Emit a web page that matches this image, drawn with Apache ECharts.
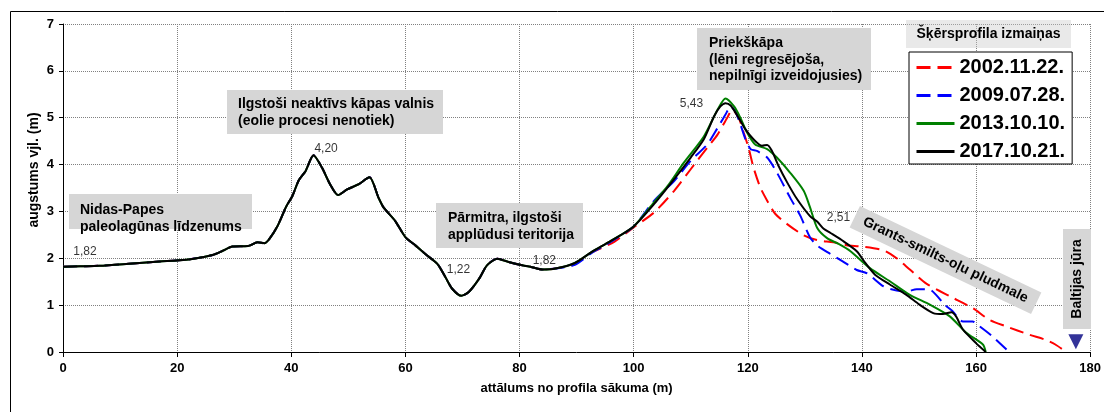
<!DOCTYPE html>
<html>
<head>
<meta charset="utf-8">
<script src="https://cdn.jsdelivr.net/npm/echarts@6/dist/echarts.min.js"></script>
<style>
  html, body { margin: 0; padding: 0; background: #fff; }
  #chart { width: 1104px; height: 412px; }
</style>
</head>
<body>
<div id="chart"></div>
<script>
// ---- DATA ----
const seriesNames = ['2002.11.22.', '2009.07.28.', '2013.10.10.', '2017.10.21.'];
const xTicks = [0, 20, 40, 60, 80, 100, 120, 140, 160, 180];
const yTicks = [0, 1, 2, 3, 4, 5, 6, 7];

// shared part of the profile (0 - 86 m), identical for all surveys
const xCommon = [0, 3, 6.4, 12.2, 16.9, 21.6, 23.9, 26.2, 28, 29.7, 32.4, 34.1, 35.3, 36.2, 37.6, 39.1, 40.2, 41.3, 42.5, 43.9, 45.4, 46.8, 48.2, 49.8, 51.8, 53.7, 55.3, 56.2, 58.2, 60, 61.8, 63.5, 65.6, 67, 68.2, 69.8, 71.1, 72.9, 74.3, 76.1, 78.1, 80.5, 82.2, 84, 86.3];
const yCommon = [1.82, 1.83, 1.84, 1.89, 1.93, 1.97, 2.01, 2.07, 2.16, 2.25, 2.26, 2.34, 2.32, 2.42, 2.69, 3.10, 3.33, 3.66, 3.86, 4.20, 3.93, 3.58, 3.35, 3.47, 3.58, 3.73, 3.29, 3.08, 2.80, 2.45, 2.27, 2.09, 1.88, 1.60, 1.35, 1.20, 1.28, 1.56, 1.85, 1.99, 1.92, 1.85, 1.81, 1.76, 1.78];

// survey-specific parts (dune and beach)
const x2002 = [89.7, 92.6, 96.6, 100, 103.6, 107.1, 110, 112.9, 114.7, 116.4, 117.3, 118.4, 119.3, 120.2, 121, 122.2, 123.4, 124.8, 126.9, 129.8, 132.1, 135, 137.3, 140, 143.8, 146.1, 148.4, 151.3, 155.4, 159.4, 162.3, 165.2, 169.3, 172.2, 173.9, 175.8];
const y2002 = [1.88, 2.12, 2.35, 2.66, 2.98, 3.44, 3.90, 4.36, 4.64, 5.00, 5.17, 5.00, 4.68, 4.33, 3.94, 3.51, 3.23, 2.95, 2.73, 2.49, 2.39, 2.34, 2.28, 2.25, 2.17, 2.00, 1.76, 1.46, 1.19, 0.94, 0.69, 0.55, 0.37, 0.26, 0.16, 0];

const x2009 = [89.7, 92.6, 96, 100, 103.6, 107.1, 110, 112.9, 114.7, 116.1, 117, 117.8, 118.7, 119.6, 120.5, 121.6, 123.4, 125.1, 127.4, 129.2, 130.9, 132.2, 134.4, 136.7, 139.1, 140.9, 143.8, 146.1, 147.8, 149.6, 151.9, 153, 154.5, 155.9, 157.7, 159.4, 160.6, 162.9, 165.8];
const y2009 = [1.86, 2.11, 2.35, 2.68, 3.23, 3.65, 4.08, 4.43, 4.78, 5.07, 5.24, 5.14, 4.86, 4.54, 4.33, 4.29, 4.15, 3.83, 3.30, 2.91, 2.45, 2.27, 2.10, 1.93, 1.75, 1.68, 1.40, 1.31, 1.29, 1.34, 1.33, 1.22, 1.01, 0.87, 0.65, 0.65, 0.55, 0.33, 0];

const x2013 = [89.7, 92.6, 96, 100, 103.6, 106, 108.8, 112.3, 114.7, 116.1, 117.6, 118.7, 119.9, 121.3, 123.4, 125.1, 127.4, 129.8, 130.9, 132.2, 133.9, 136, 138, 141.4, 144.9, 148.4, 151.9, 155.4, 158.3, 161.2, 161.7];
const y2013 = [1.90, 2.13, 2.37, 2.68, 3.20, 3.55, 4.04, 4.60, 5.17, 5.41, 5.24, 5.00, 4.68, 4.43, 4.33, 4.15, 3.83, 3.44, 3.09, 2.64, 2.43, 2.30, 2.15, 1.79, 1.51, 1.22, 1.01, 0.76, 0.41, 0.16, 0];

const x2017 = [89.7, 92.6, 96, 100, 103.6, 107.1, 110, 112.3, 114.1, 115.2, 116.1, 117, 118.4, 119.6, 121, 122.5, 123.4, 124.2, 125.4, 126.9, 128.6, 130.9, 132.2, 133.3, 134.5, 136.8, 139.1, 140.6, 142.3, 144.9, 147.8, 150.1, 152.5, 154.2, 155.7, 156.5, 157.7, 160, 161.7];
const y2017 = [1.90, 2.13, 2.37, 2.68, 3.16, 3.69, 4.15, 4.54, 5.03, 5.24, 5.31, 5.26, 5.00, 4.75, 4.54, 4.40, 4.42, 4.30, 3.97, 3.62, 3.27, 2.90, 2.78, 2.63, 2.54, 2.36, 2.15, 1.90, 1.65, 1.44, 1.22, 1.01, 0.83, 0.81, 0.85, 0.76, 0.48, 0.19, 0];

// value annotations: [x, y, text]
const pointLabels = [[0, 1.82, '1,82'], [44, 4.20, '4,20'], [70, 1.22, '1,22'], [84, 1.78, '1,82'], [116.1, 5.41, '5,43'], [131.5, 2.51, '2,51']];
// sea marker position [x, y]
const seaMarker = [[177.5, 0.22]];

// text annotations
const zoneTexts = {
  lagoon: 'Nidas-Papes\npaleolagūnas līdzenums',
  ridge: 'Ilgstoši neaktīvs kāpas valnis\n(eolie procesi nenotiek)',
  wet: 'Pārmitra, ilgstoši\napplūdusi teritorija',
  foredune: 'Priekškāpa\n(lēni regresējoša,\nnepilnīgi izveidojusies)',
  beach: 'Grants-smilts-oļu pludmale',
  sea: 'Baltijas jūra',
  legendTitle: 'Šķērsprofila izmaiņas'
};
const xAxisName = 'attālums no profila sākuma (m)';
const yAxisName = 'augstums vjl. (m)';

// ---- BUILD ----
const FONT = 'Liberation Sans, Arial, sans-serif';
function pairs(xs, ys) { return xs.map((x, i) => [x, ys[i]]); }
const tails = [[x2002, y2002], [x2009, y2009], [x2013, y2013], [x2017, y2017]];
const colors = ['#ff0000', '#0000ff', '#008000', '#000000'];
const dashes = [[14, 7], [14, 7], 'solid', 'solid'];
const labelOffsets = [[22, -15], [12, -7], [-4, -25], [2, -8], [-34, 5], [25, -17]];

const lineSeries = seriesNames.map((name, i) => ({
  name: name,
  type: 'line',
  data: pairs(xCommon.concat(tails[i][0]), yCommon.concat(tails[i][1])),
  smooth: 0.25,
  symbol: 'none',
  showSymbol: false,
  color: colors[i],
  lineStyle: { color: colors[i], width: 2, type: dashes[i] },
  z: 2 + i
}));

const labelSeries = {
  name: 'labels',
  type: 'scatter',
  symbolSize: 0,
  silent: true,
  z: 10,
  data: pointLabels.map((p, i) => ({
    value: [p[0], p[1]],
    name: p[2],
    label: { offset: labelOffsets[i] }
  })),
  label: {
    show: true,
    position: 'inside',
    formatter: (d) => d.name,
    fontFamily: FONT,
    fontSize: 12,
    color: '#000'
  }
};

const seaSeries = {
  name: 'sea',
  type: 'scatter',
  symbol: 'triangle',
  symbolRotate: 180,
  symbolSize: [15, 15],
  itemStyle: { color: '#333399', opacity: 1 },
  z: 10,
  data: seaMarker
};

function box(x, y, w, h, text, tx, ty, fill) {
  return [
    { type: 'rect', z: 100, shape: { x: x, y: y, width: w, height: h }, style: { fill: fill || '#d6d6d6' } },
    { type: 'text', z: 101, x: tx, y: ty, style: { text: text, font: 'bold 14px ' + FONT, fill: '#000', lineHeight: 16.5, verticalAlign: 'top' } }
  ];
}

const graphics = [].concat(
  box(69, 194, 183, 35, zoneTexts.lagoon, 80, 202),
  box(227, 90, 216, 44, zoneTexts.ridge, 238, 96),
  box(436, 203, 147, 45, zoneTexts.wet, 448, 210),
  box(697, 28, 174, 62, zoneTexts.foredune, 709, 35),
  [
    { type: 'rect', z: 100, shape: { x: 906, y: 20, width: 165, height: 28 }, style: { fill: 'rgba(200,200,200,0.4)' } },
    { type: 'text', z: 101, x: 988.5, y: 34, style: { text: zoneTexts.legendTitle, font: 'bold 14px ' + FONT, fill: '#000', align: 'center', verticalAlign: 'middle' } },
    {
      type: 'group', x: 945.5, y: 260, rotation: -25.5 * Math.PI / 180, z: 100,
      children: [
        { type: 'rect', z: 100, shape: { x: -100.5, y: -12, width: 201, height: 24 }, style: { fill: '#d6d6d6' } },
        { type: 'text', z: 101, style: { text: zoneTexts.beach, x: 0, y: 0, font: 'bold 14px ' + FONT, fill: '#000', align: 'center', verticalAlign: 'middle' } }
      ]
    },
    {
      type: 'group', x: 1077, y: 279, rotation: Math.PI / 2, z: 100,
      children: [
        { type: 'rect', z: 100, shape: { x: -50, y: -14, width: 100, height: 28 }, style: { fill: '#d6d6d6' } },
        { type: 'text', z: 101, style: { text: zoneTexts.sea, x: 0, y: 0, font: 'bold 14px ' + FONT, fill: '#000', align: 'center', verticalAlign: 'middle' } }
      ]
    },
    {
      type: 'text', x: 34, y: 170, rotation: Math.PI / 2, z: 50,
      style: { text: yAxisName, font: 'bold 14px ' + FONT, fill: '#000', align: 'center', verticalAlign: 'middle' }
    },
    {
      type: 'rect', z: 0, silent: true,
      shape: { x: 10.5, y: 11.5, width: 1110, height: 420 },
      style: { fill: 'none', stroke: '#000', lineWidth: 1 }
    }
  ]
);

const chart = echarts.init(document.getElementById('chart'), null, { renderer: 'canvas' });
chart.setOption({
  animation: false,
  backgroundColor: '#fff',
  textStyle: { fontFamily: FONT },
  grid: { left: 63, right: 10, top: 24, bottom: 60, containLabel: false },
  legend: {
    data: seriesNames,
    orient: 'vertical',
    left: 909,
    top: 52,
    backgroundColor: '#fff',
    borderColor: '#000',
    borderWidth: 1,
    padding: [5, 7, 2, 6],
    itemGap: 7,
    itemWidth: 38,
    itemHeight: 14,
    z: 120,
    itemStyle: { opacity: 0 },
    lineStyle: { width: 3 },
    textStyle: { fontFamily: FONT, fontSize: 20, fontWeight: 'bold', color: '#000', lineHeight: 21 }
  },
  xAxis: {
    type: 'value',
    min: xTicks[0],
    max: xTicks[xTicks.length - 1],
    interval: 20,
    name: xAxisName,
    nameLocation: 'middle',
    nameGap: 30,
    nameTextStyle: { fontFamily: FONT, fontSize: 13, fontWeight: 'bold', color: '#000' },
    axisLine: { show: true, lineStyle: { color: '#000', width: 1 } },
    axisTick: { show: true, inside: false, length: 5, lineStyle: { color: '#000' } },
    axisLabel: { fontFamily: FONT, fontSize: 13, fontWeight: 'bold', color: '#000', margin: 10 },
    splitLine: { show: true, lineStyle: { color: '#808080', type: [1, 1], width: 1 } }
  },
  yAxis: {
    type: 'value',
    min: yTicks[0],
    max: yTicks[yTicks.length - 1],
    interval: 1,
    axisLine: { show: true, lineStyle: { color: '#000', width: 1 } },
    axisTick: { show: true, inside: false, length: 4, lineStyle: { color: '#000' } },
    axisLabel: { fontFamily: FONT, fontSize: 13, fontWeight: 'bold', color: '#000', margin: 9 },
    splitLine: { show: true, lineStyle: { color: '#808080', type: [1, 1], width: 1 } }
  },
  graphic: graphics,
  series: lineSeries.concat([labelSeries, seaSeries])
});
</script>
</body>
</html>
